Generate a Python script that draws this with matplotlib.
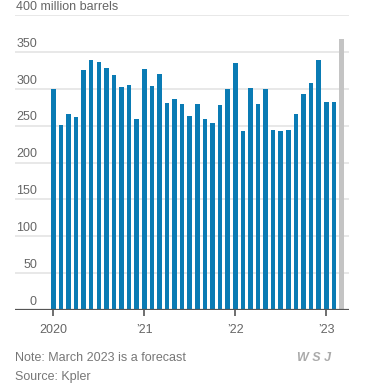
import matplotlib.pyplot as plt

# Monthly values, Jan 2020 - Mar 2023 (million barrels)
values = [299, 251, 266, 262, 325, 339, 336, 328, 318, 302, 305, 259,
          327, 304, 320, 281, 286, 279, 263, 279, 259, 254, 278, 299,
          335, 243, 301, 279, 299, 244, 243, 244, 266, 293, 308, 339,
          282, 282, 367]
forecast = [False] * 38 + [True]
year_ticks = [0, 12, 24, 36]
year_labels = ['2020', '\u201921', '\u201922', '\u201923']
y_ticks = [0, 50, 100, 150, 200, 250, 300, 350]

plt.rcParams['font.family'] = ['Liberation Sans', 'DejaVu Sans']

fig = plt.figure(figsize=(3.66, 3.92), dpi=100)
ax = fig.add_axes([15 / 366, 1 - 310 / 392, 334 / 366, 295 / 392])

colors = ['#c4c4c4' if f else '#0a7bb4' for f in forecast]
ax.bar(range(len(values)), values, width=0.6, color=colors, zorder=2)

ax.set_xlim(-5.05, 39.0)
ax.set_ylim(0, 400)

# gridlines
for v in y_ticks[1:] + [400]:
    ax.axhline(v, color='#e8e8e8', lw=1.4, zorder=1)
ax.axhline(0, color='#555555', lw=1.6, zorder=3)

# y labels sitting above gridlines
lab_x = (37 - 15) / 334
for v in y_ticks:
    ax.text(lab_x, v + 3, str(v), transform=ax.get_yaxis_transform(),
            ha='right', va='bottom', fontsize=9, color='#666666')
ax.text(1 / 334, 403, '400 million barrels', transform=ax.get_yaxis_transform(),
        ha='left', va='bottom', fontsize=9, color='#666666')

ax.set_yticks([])
ax.set_xticks(year_ticks)
ax.set_xticklabels(year_labels, fontsize=9, color='#666666')
ax.tick_params(axis='x', length=4, width=1.2, color='#555555', pad=6)
for s in ax.spines.values():
    s.set_visible(False)

fig.text(15 / 366, 1 - 358 / 392, 'Note: March 2023 is a forecast',
         fontsize=9, color='#777777', va='center')
fig.text(15 / 366, 1 - 377 / 392, 'Source: Kpler',
         fontsize=9, color='#777777', va='center')
fig.text(331 / 366, 1 - 358 / 392, 'W S J', fontsize=9, color='#aaaaaa',
         style='italic', fontweight='bold', ha='right', va='center')

fig.savefig('out.png', dpi=100)
